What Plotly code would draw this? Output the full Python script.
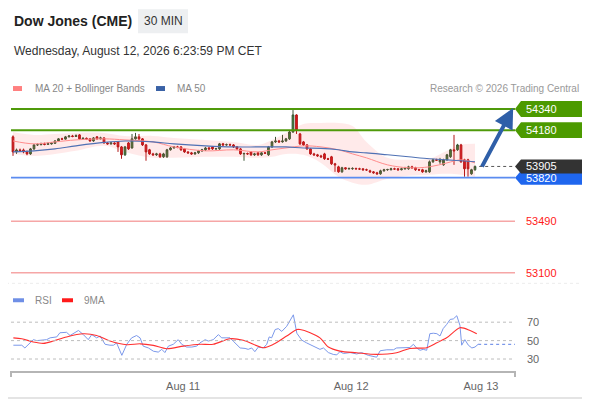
import plotly.graph_objects as go

# ---- values ------------------------------------------------------------------
OPEN = [54129, 54015, 54030, 54030, 54015, 54000, 54038, 54068, 54070, 54076,
        54072, 54076, 54080, 54098, 54114, 54112, 54129, 54136, 54132, 54144,
        54114, 54118, 54114, 54098, 54129, 54114, 54121, 54083, 54076, 54083,
        54091, 54053, 53993, 54083, 54045, 54114, 54129, 54114, 54068, 54031,
        54000, 53993, 54000, 53978, 53978, 54031, 54045, 54053, 54053, 54038,
        54015, 54008, 54000, 54008, 54023, 54031, 54045, 54053, 54038, 54038,
        54076, 54068, 54070, 54068, 54053, 54038, 54000, 54003, 54015, 53993,
        54008, 53993, 54008, 53993, 54053, 54091, 54098, 54091, 54098, 54114,
        54166, 54295, 54151, 54091, 54068, 54038, 54000, 53993, 53985, 54000,
        53963, 53978, 53925, 53902, 53864, 53895, 53887, 53887, 53890, 53887,
        53887, 53880, 53872, 53864, 53857, 53849, 53872, 53880, 53880, 53887,
        53887, 53880, 53887, 53887, 53902, 53895, 53880, 53880, 53864, 53864,
        53940, 53955, 53940, 53917, 53955, 53978, 54031, 54031, 54068, 53955,
        53955, 53849, 53880]
HIGH = [54140, 54040, 54040, 54040, 54025, 54045, 54075, 54080, 54085, 54085,
        54088, 54090, 54105, 54120, 54122, 54136, 54142, 54144, 54148, 54150,
        54126, 54124, 54120, 54128, 54135, 54130, 54126, 54090, 54090, 54088,
        54095, 54060, 54060, 54090, 54151, 54159, 54151, 54120, 54075, 54038,
        54008, 54008, 54008, 54008, 54038, 54053, 54060, 54061, 54060, 54045,
        54020, 54015, 54015, 54030, 54038, 54053, 54053, 54060, 54045, 54083,
        54083, 54078, 54078, 54075, 54060, 54045, 54010, 54010, 54020, 54008,
        54015, 54015, 54015, 54060, 54098, 54129, 54106, 54144, 54121, 54175,
        54332, 54300, 54159, 54098, 54075, 54045, 54008, 54000, 53993, 54008,
        53970, 53985, 53932, 53910, 53902, 53898, 53895, 53898, 53895, 53895,
        53890, 53888, 53880, 53870, 53864, 53880, 53887, 53887, 53895, 53895,
        53893, 53895, 53902, 53910, 53910, 53902, 53887, 53887, 53880, 53950,
        53963, 53963, 53970, 53963, 54000, 54038, 54144, 54076, 54076, 53963,
        53963, 53887, 53912]
LOW = [53985, 54000, 54015, 54005, 53990, 53993, 54030, 54060, 54065, 54065,
       54068, 54070, 54075, 54092, 54105, 54108, 54125, 54126, 54128, 54108,
       54108, 54105, 54092, 54092, 54108, 54110, 54078, 54070, 54070, 54068,
       54015, 53963, 53985, 54030, 54040, 54108, 54105, 54060, 53948, 53993,
       53985, 53985, 53970, 53970, 53970, 54025, 54040, 54043, 54023, 54008,
       54000, 53993, 53993, 54000, 54015, 54023, 54030, 54030, 54030, 54030,
       54060, 54062, 54060, 54045, 54030, 53993, 53948, 53993, 53985, 53985,
       53985, 53985, 54000, 53985, 54045, 54083, 54083, 54085, 54091, 54106,
       54159, 54151, 54068, 54060, 54030, 53993, 53985, 53978, 53970, 53955,
       53955, 53917, 53864, 53857, 53857, 53880, 53880, 53880, 53880, 53878,
       53872, 53872, 53857, 53850, 53842, 53842, 53865, 53872, 53875, 53880,
       53872, 53875, 53880, 53880, 53887, 53872, 53872, 53857, 53857, 53857,
       53932, 53948, 53925, 53910, 53948, 53970, 53917, 54023, 53932, 53827,
       53827, 53842, 53872]
CLOSE = [54015, 54030, 54025, 54015, 54000, 54038, 54068, 54070, 54076, 54072,
         54078, 54083, 54098, 54114, 54112, 54129, 54136, 54132, 54138, 54114,
         54118, 54112, 54098, 54121, 54114, 54121, 54083, 54076, 54083, 54076,
         54053, 53993, 54053, 54038, 54114, 54129, 54114, 54068, 54015, 54000,
         53993, 54000, 53978, 54000, 54031, 54045, 54053, 54050, 54031, 54015,
         54008, 54000, 54008, 54023, 54031, 54045, 54038, 54038, 54040, 54076,
         54068, 54070, 54068, 54053, 54038, 54000, 54003, 54000, 53993, 54000,
         53993, 54008, 54005, 54053, 54091, 54098, 54091, 54098, 54114, 54166,
         54295, 54182, 54076, 54068, 54038, 54000, 53993, 53985, 53978, 53963,
         53960, 53925, 53917, 53864, 53895, 53887, 53890, 53890, 53887, 53885,
         53880, 53878, 53864, 53857, 53849, 53872, 53880, 53882, 53887, 53885,
         53880, 53887, 53895, 53902, 53895, 53880, 53878, 53864, 53872, 53940,
         53955, 53952, 53955, 53955, 53993, 54031, 54023, 54068, 53940, 53887,
         53887, 53880, 53905]

# Bollinger bands / moving averages, sampled at bar numbers
BAND_X = [0, 6, 12, 18, 26, 32, 40, 46, 55, 63, 70, 74,
          78, 83, 88, 93, 97, 101, 107, 113, 119, 124, 128, 132]
BB_UPPER = [54166, 54144, 54151, 54159, 54159, 54136, 54136, 54121, 54106, 54091, 54068, 54106,
            54159, 54227, 54234, 54234, 54212, 54091, 53970, 53955, 53963, 54023, 54068, 54076]
MA20 = [54098, 54076, 54091, 54106, 54114, 54106, 54091, 54053, 54023, 54031, 54015, 54031,
        54045, 54061, 54053, 54031, 54000, 53970, 53917, 53895, 53902, 53932, 53955, 53932]
BB_LOWER = [54000, 53985, 54000, 54023, 54061, 54015, 53970, 53970, 53978, 53978, 53970, 53978,
            54000, 53993, 53932, 53827, 53782, 53766, 53812, 53834, 53842, 53849, 53842, 53827]
MA50 = [54015, 54023, 54038, 54061, 54087, 54098, 54091, 54076, 54061, 54053, 54053, 54053,
        54053, 54045, 54042, 54031, 54015, 54008, 53993, 53978, 53963, 53955, 53948, 53940]

RSI_X = [0.1, 2.5, 3.4, 4.9, 5.8, 6.8, 9.6, 10.6, 12.5, 13.4,
         15.3, 16.3, 18.7, 20.1, 21.5, 22.5, 23.9, 24.9, 26.3, 27.7,
         28.7, 29.6, 31.1, 32.5, 33.9, 35.3, 36.3, 37.2, 38.7, 40.1,
         41.5, 42.5, 43.4, 44.4, 45.8, 47.2, 48.2, 49.6, 51.1, 52.5,
         53.4, 54.9, 55.8, 57.2, 58.7, 59.6, 62.0, 62.9, 64.9, 66.3,
         67.2, 68.2, 69.1, 70.1, 71.5, 72.5, 73.2, 73.9, 74.9, 75.8,
         76.8, 78.2, 79.1, 80.1, 81.1, 82.5, 83.9, 85.8, 86.8, 87.7,
         88.7, 90.1, 91.5, 92.5, 93.4, 94.4, 96.3, 98.2, 99.6, 101.5,
         103.9, 104.9, 106.8, 108.7, 109.6, 111.5, 113.4, 114.4, 115.3, 116.3,
         117.2, 118.2, 119.1, 120.1, 121.1, 122.0, 122.9, 123.9, 124.9, 125.8,
         126.8, 127.7, 128.2, 129.1, 130.1, 131.1, 132.0, 132.9]
RSI = [45, 45, 42, 48, 51, 50, 51, 53, 54, 58.5,
       59, 55.5, 61, 56.5, 51, 56.5, 53, 55, 46, 45,
       45, 47.5, 34, 46, 53, 55.5, 53, 44, 42, 38.5,
       37.5, 40.5, 37, 44, 46, 51, 46, 43, 43, 44,
       47.5, 51, 49.5, 51, 56.5, 53, 53, 49.5, 42, 41.5,
       40.5, 42, 38, 43, 42, 46, 54, 53, 62, 63,
       60, 65.5, 71, 78, 58, 50.5, 47.5, 44, 42, 40.5,
       42, 37, 35, 34.5, 38, 36, 37, 35.5, 37, 34,
       32, 39, 40, 40, 42, 42, 42.5, 46, 42, 39.5,
       40.5, 39.5, 57.5, 58, 57.5, 55, 63, 67.5, 73, 73.5,
       77, 66.5, 45, 51, 45, 42, 43, 46]
RSI_MA_X = [0.1, 2.5, 5.8, 8.7, 11.5, 15.3, 20.1, 23.9, 27.7, 32.5,
            36.3, 40.1, 43.9, 48.7, 53.4, 57.2, 62.0, 65.8, 71.5, 74.4,
            78.2, 81.1, 82.0, 84.9, 87.7, 90.1, 93.4, 98.2, 103.9, 109.6,
            113.4, 118.2, 121.1, 123.9, 127.7, 130.6, 132.5]
RSI_MA = [53, 52, 48.5, 47, 49.5, 54, 57.4, 55.6, 49.5, 45.5,
          46.5, 44.8, 41.2, 44, 46, 46, 52, 50.3, 42.3, 46,
          55, 62, 62, 58.5, 53, 43, 38.6, 36.8, 35, 36.8,
          41.5, 42.3, 47.6, 53, 64, 61, 57.4]

RESIST = [54340, 54180]
LAST = 53905
PIVOT = 53820
SUPPORT = [53490, 53100]
RSI_LEVELS = [70, 50, 30]
DAY_TICKS = [48.6, 96.6, 133.7]
DAY_LABELS = ["Aug 11", "Aug 12", "Aug 13"]

BARS = list(range(len(CLOSE)))

# ---- geometry: page pixels of the 590x400 window (page body has a margin) ------
OFFX, OFFY = 8, 6.5
W, H = 590 - 8, 400 - 8
PL, PR, PT, PB = 11, 515, 95, 370          # plot area, page pixels
PRICE_BOTTOM, RSI_TOP = 285, 305
Y_RANGE = [52997, 54431]
RSI_RANGE = [17.0, 87.3]
X_RANGE = [-0.571, 143.43]
PT_PER_PX = (Y_RANGE[1] - Y_RANGE[0]) / (PRICE_BOTTOM - PT)


def px(x):
    return (x - PL) / (PR - PL)


def py(y):
    return (PB - y) / (PB - PT)


FONT = "Arial, Liberation Sans, sans-serif"
GREEN, DARK, BLUE = "#4c9a00", "#333333", "#1f66ee"

fig = go.Figure()

# bollinger fill + MA20 + MA50
fig.add_trace(go.Scatter(x=BAND_X, y=BB_UPPER, mode="lines", line=dict(width=0, shape="spline"),
                         hoverinfo="skip", showlegend=False))
fig.add_trace(go.Scatter(x=BAND_X, y=BB_LOWER, mode="lines", line=dict(width=0, shape="spline"),
                         fill="tonexty", fillcolor="rgba(255,60,60,0.11)",
                         hoverinfo="skip", showlegend=False))
fig.add_trace(go.Scatter(x=BAND_X, y=MA20, mode="lines",
                         line=dict(color="#ff8c8c", width=1, shape="spline"),
                         hoverinfo="skip", showlegend=False))
fig.add_trace(go.Scatter(x=BAND_X, y=MA50, mode="lines",
                         line=dict(color="#4f71b4", width=1.1, shape="spline"),
                         hoverinfo="skip", showlegend=False))

fig.add_trace(go.Candlestick(
    x=BARS, open=OPEN, high=HIGH, low=LOW, close=CLOSE,
    increasing=dict(line=dict(color="#3a5534", width=1), fillcolor="#348a2c"),
    decreasing=dict(line=dict(color="#b01515", width=1), fillcolor="#e3141c"),
    whiskerwidth=0, hoverinfo="skip", showlegend=False))

# last price dotted leader
fig.add_trace(go.Scatter(x=[BARS[-1] + 1.2, X_RANGE[1]], y=[LAST, LAST], mode="lines",
                         line=dict(color="#555", width=1, dash="dot"),
                         hoverinfo="skip", showlegend=False))

# RSI pane
fig.add_trace(go.Scatter(x=RSI_X, y=RSI, mode="lines", line=dict(color="#7b98ea", width=1),
                         xaxis="x2", yaxis="y2", hoverinfo="skip", showlegend=False))
fig.add_trace(go.Scatter(x=[RSI_X[-1], X_RANGE[1]], y=[RSI[-1], RSI[-1]], mode="lines",
                         line=dict(color="#7b98ea", width=1.2, dash="dot"),
                         xaxis="x2", yaxis="y2", hoverinfo="skip", showlegend=False))
fig.add_trace(go.Scatter(x=RSI_MA_X, y=RSI_MA, mode="lines",
                         line=dict(color="#ff3030", width=1.1, shape="spline", smoothing=0.8),
                         xaxis="x2", yaxis="y2", hoverinfo="skip", showlegend=False))

shapes, notes = [], []


def text(x, y, s, size, color, anchor="left", bold=False):
    notes.append(dict(x=px(x), y=py(y), xref="paper", yref="paper", text=f"<b>{s}</b>" if bold else s,
                      showarrow=False, xanchor=anchor, yanchor="middle",
                      font=dict(family=FONT, size=size, color=color)))


def rect(x0, y0, x1, y1, color):
    shapes.append(dict(type="rect", xref="paper", yref="paper", x0=px(x0), x1=px(x1),
                       y0=py(y1), y1=py(y0), fillcolor=color, line=dict(width=0), layer="below"))


# header
text(12, 19, "Dow Jones (CME)", 14, "#222", bold=True)
rect(138, 7, 188, 31, "#edeff1")
text(163, 19, "30 MIN", 12, "#333", anchor="center")
text(12, 48.5, "Wednesday, August 12, 2026 6:23:59 PM CET", 12, "#333")

# legends
rect(13, 84, 22, 89, "#ff8080")
text(33, 86, "MA 20 + Bollinger Bands", 10, "#888")
rect(156, 84, 165, 89, "#3a62a6")
text(175, 86, "MA 50", 10, "#888")
text(581, 86, "Research © 2026 Trading Central", 10, "#999", anchor="right")
rect(13, 297, 24, 301, "#6f8fe6")
text(33, 299, "RSI", 10, "#888")
rect(62, 297, 73, 301, "#ff1a1a")
text(82, 299, "9MA", 10, "#888")


def hline(y, color, width, yref="y", dash="solid"):
    shapes.append(dict(type="line", xref="paper", yref=yref, x0=0, x1=1, y0=y, y1=y,
                       line=dict(color=color, width=width, dash=dash)))


def tag(y, fill, half_px):
    h = half_px * PT_PER_PX
    xt, xa, xr = px(PR), px(PR + 6), px(586)
    path = (f"M {xt},{y} L {xa},{y + h} L {xr},{y + h} L {xr},{y - h} L {xa},{y - h} Z")
    shapes.append(dict(type="path", xref="paper", yref="y", path=path,
                       fillcolor=fill, line=dict(width=0)))
    notes.append(dict(x=px(524), y=y, xref="paper", yref="y", text=str(y), showarrow=False,
                      xanchor="left", yanchor="middle", font=dict(family=FONT, size=11, color="white")))


for lv in RESIST:
    hline(lv, "#4f9a0a", 2)
    tag(lv, GREEN, 8)
hline(PIVOT, "#5b8cf0", 1.6)
for lv in SUPPORT:
    hline(lv, "#f6a6a6", 1.4)
    notes.append(dict(x=px(524), y=lv, xref="paper", yref="y", text=str(lv), showarrow=False,
                      xanchor="left", yanchor="middle", font=dict(family=FONT, size=11, color="#ff1a1a")))
tag(PIVOT, BLUE, 7)
tag(LAST, DARK, 7)

for lv in RSI_LEVELS:
    hline(lv, "#bdbdbd", 1, yref="y2", dash="dot")
    notes.append(dict(x=px(525), y=lv, xref="paper", yref="y2", text=str(lv), showarrow=False,
                      xanchor="left", yanchor="middle", font=dict(family=FONT, size=11, color="#666")))

# x-axis end caps
for xe in (0, 1):
    shapes.append(dict(type="line", xref="paper", yref="paper", x0=xe, x1=xe, y0=0, y1=-6 / (PB - PT),
                       line=dict(color="#b5b5b5", width=2)))

# separator + outer frame
shapes.append(dict(type="line", xref="paper", yref="paper", x0=px(0), x1=px(586), y0=py(282), y1=py(282),
                   line=dict(color="#ececec", width=1, dash="dot")))
shapes.append(dict(type="rect", xref="paper", yref="paper", x0=px(-4), x1=px(588), y0=py(397), y1=py(-4),
                   line=dict(color="#dcdcdc", width=1.5), fillcolor="rgba(0,0,0,0)"))

# forecast arrow
notes.append(dict(x=142.9, y=54347, xref="x", yref="y", ax=-32, ay=60, text="", showarrow=True,
                  arrowhead=2, arrowsize=1, arrowwidth=4, arrowcolor="#2f5fa8"))

fig.update_layout(
    width=W, height=H,
    margin=dict(l=PL - OFFX, r=W - (PR - OFFX), t=PT - OFFY, b=H - (PB - OFFY)),
    paper_bgcolor="white", plot_bgcolor="white", showlegend=False,
    font=dict(family=FONT, size=11, color="#666"),
    xaxis=dict(range=X_RANGE, visible=False, rangeslider=dict(visible=False), anchor="y"),
    yaxis=dict(range=Y_RANGE, domain=[py(PRICE_BOTTOM), 1], visible=False),
    xaxis2=dict(range=X_RANGE, matches="x", anchor="y2", showgrid=False, zeroline=False,
                showline=True, linecolor="#b5b5b5", linewidth=2,
                tickvals=DAY_TICKS, ticktext=DAY_LABELS, ticks="outside", ticklen=4,
                tickcolor="rgba(0,0,0,0)", tickfont=dict(family=FONT, size=11, color="#666")),
    yaxis2=dict(range=RSI_RANGE, domain=[0, py(RSI_TOP)], visible=False),
    shapes=shapes, annotations=notes,
)

fig.write_html("out.html")
